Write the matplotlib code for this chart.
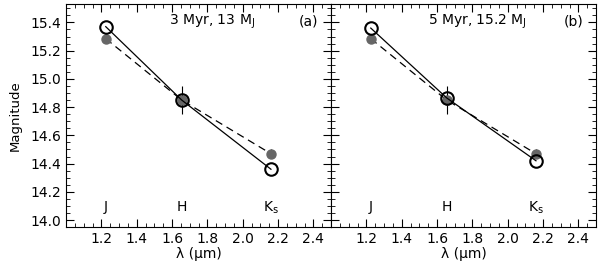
import matplotlib.pyplot as plt
import numpy as np
from matplotlib.ticker import MultipleLocator

bands = ['J', 'H', 'K$_\\mathrm{s}$']
wave = [1.225, 1.655, 2.16]
obs_mag = [15.285, 14.85, 14.47]
obs_err = [0.02, 0.10, 0.03]
model_a = [15.37, 14.85, 14.36]
model_b = [15.36, 14.865, 14.42]
titles = ['3 Myr, 13 M$_\\mathrm{J}$', '5 Myr, 15.2 M$_\\mathrm{J}$']
tags = ['(a)', '(b)']

plt.rcParams['font.family'] = ['DejaVu Sans']
plt.rcParams['mathtext.default'] = 'regular'

fig = plt.figure(figsize=(6, 2.72), dpi=100)
ax1 = fig.add_axes([0.11, 0.165, 0.4417, 0.82])
ax2 = fig.add_axes([0.5517, 0.165, 0.4417, 0.82])

for i, (ax, model) in enumerate(zip([ax1, ax2], [model_a, model_b])):
    ax.plot(wave, obs_mag, 'k--', lw=0.9, dashes=(6, 4), zorder=1)
    ax.errorbar(wave, obs_mag, yerr=obs_err, fmt='o', color='#666666', ms=6.5,
                mec='#666666', ecolor='k', elinewidth=0.8, capsize=0, zorder=2)
    ax.plot(wave, model, 'k-', lw=0.9, zorder=3)
    ax.plot(wave, model, 'o', mfc='none', mec='k', ms=9, mew=1.5, zorder=4)
    for w, b in zip(wave, bands):
        ax.text(w, 14.09, b, ha='center', va='center', fontsize=10)
    ax.text(0.55, 0.92, titles[i], transform=ax.transAxes, ha='center', va='center', fontsize=10)
    ax.text(0.915, 0.92, tags[i], transform=ax.transAxes, ha='center', va='center', fontsize=10)
    ax.set_xlim(1.0, 2.5)
    ax.set_ylim(13.95, 15.53)
    ax.xaxis.set_minor_locator(MultipleLocator(0.05))
    ax.yaxis.set_major_locator(MultipleLocator(0.2))
    ax.yaxis.set_minor_locator(MultipleLocator(0.05))
    ax.set_xticks(np.arange(1.2, 2.41, 0.2))
    ax.tick_params(which='both', direction='in', top=True, right=True, labelsize=10)
    ax.tick_params(which='major', length=6)
    ax.tick_params(which='minor', length=3)
    ax.set_xlabel('λ (μm)', fontsize=10, labelpad=1)

ax1.set_ylabel('Magnitude', fontsize=9.5, labelpad=6)
ax1.yaxis.set_major_formatter(plt.FormatStrFormatter('%.1f'))
ax1.xaxis.set_major_formatter(plt.FormatStrFormatter('%.1f'))
ax2.xaxis.set_major_formatter(plt.FormatStrFormatter('%.1f'))
ax2.tick_params(labelleft=False)

fig.savefig('out.png', dpi=100)
